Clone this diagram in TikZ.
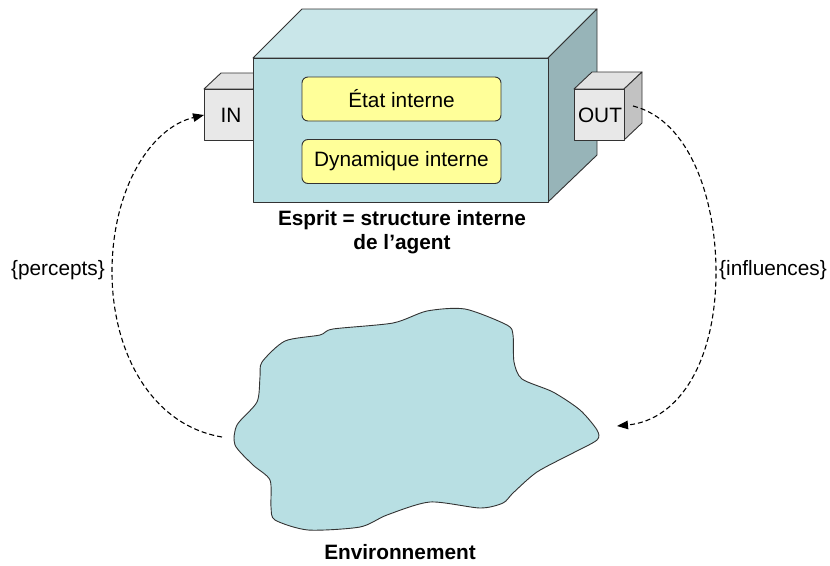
\documentclass[tikz,border=0pt]{standalone}
\usepackage{fontspec}
\setmainfont{Liberation Sans}
\usetikzlibrary{arrows.meta}
\definecolor{boxfront}{HTML}{B8DFE3}
\definecolor{boxtop}{HTML}{C9E6E9}
\definecolor{boxside}{HTML}{97B4B8}
\definecolor{portfront}{HTML}{E8E8E8}
\definecolor{porttop}{HTML}{E2E2E2}
\definecolor{portside}{HTML}{C2C2C2}
\definecolor{statefill}{HTML}{FFFF99}
\definecolor{envfill}{HTML}{B8DFE3}
\definecolor{edge}{HTML}{333333}
\tikzset{
  face/.style={draw=edge, line width=0.9pt, line join=round},
  inner/.style={draw=edge, line width=0.9pt, fill=statefill, rounded corners=6pt,
    minimum width=199pt, minimum height=44pt, font=\fontsize{20.8}{24}\selectfont},
  portlabel/.style={font=\fontsize{20.8}{24}\selectfont, inner sep=0pt},
  caption/.style={font=\bfseries\fontsize{20.8}{24}\selectfont, align=center, inner sep=0pt},
  setlabel/.style={font=\fontsize{20.8}{24}\selectfont, inner sep=0pt},
  flow/.style={dashed, dash pattern=on 5pt off 3pt, line width=1.1pt,
    -{Triangle[length=11pt,width=8.5pt]}},
}
\begin{document}
\begin{tikzpicture}[x=1pt,y=-1pt]
\useasboundingbox (0,0) rectangle (830,565);

% IN port (drawn behind the main box)
\draw[face, fill=porttop] (204,89) -- (221,73) -- (270,73) -- (253,89) -- cycle;
\draw[face, fill=portfront] (204,89) rectangle (253,140);
\node[portlabel] (in) at (231,115) {IN};
\coordinate (inwest) at (204,115);

% main box: top, right side, front
\draw[face, fill=boxtop] (253,58) -- (302,9) -- (597,9) -- (548,58) -- cycle;
\draw[face, fill=boxside] (548,58) -- (597,9) -- (597,155) -- (548,202) -- cycle;
\draw[face, fill=boxfront] (253,58) rectangle (548,202);

% inner components
\node[inner] (state) at (401.5,99) {État interne};
\node[inner] (dyn) at (401.5,161.5) {Dynamique interne};

% OUT port (in front of the main box)
\draw[face, fill=porttop] (574,89) -- (592,72) -- (642,72) -- (624,89) -- cycle;
\draw[face, fill=portside] (624,89) -- (642,72) -- (642,123) -- (624,140) -- cycle;
\draw[face, fill=portfront] (574,89) rectangle (624,140);
\node[portlabel] (out) at (600,115) {OUT};
\coordinate (outeast) at (633,106);

% caption of the agent
\node[caption] (mind) at (402,232) {Esprit = structure interne\\de l’agent};

% environment
\draw[face, fill=envfill] plot[smooth cycle, tension=0.45] coordinates {
  (285,341) (320,335) (333,329) (393,323) (427,311) (465,309) (507,325)
  (513,335) (514,362) (522,379) (553,392) (580,410) (597,430) (597,440)
  (573,453) (537,472) (513,493) (503,503) (480,508) (430,502) (387,515)
  (360,527) (308,530) (275,520) (271,507) (270,480) (253,465) (235,445)
  (237,425) (257,402) (260,377) (262,362)};
\coordinate (envwest) at (222,437);
\coordinate (enveast) at (617,426);
\node[caption] (env) at (400,552) {Environnement};

% perception and action loops
\draw[flow] (envwest) .. controls (150,425) and (112,350) .. (112,272)
  .. controls (112,190) and (150,128) .. (inwest);
\draw[flow] (outeast) .. controls (690,120) and (716,200) .. (716,272)
  .. controls (716,360) and (680,420) .. (enveast);

\node[setlabel] (percepts) at (58,270) {\{percepts\}};
\node[setlabel] (influences) at (773,270) {\{influences\}};
\end{tikzpicture}
\end{document}
